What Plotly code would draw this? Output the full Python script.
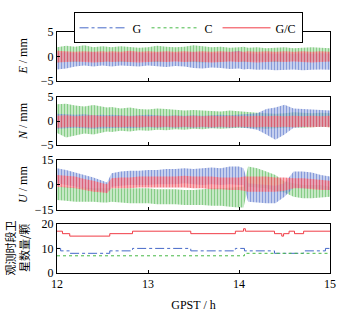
import plotly.graph_objects as go

# ---------------- data ----------------
T = [12.0, 12.1, 12.2, 12.3, 12.4, 12.5, 12.55, 12.6, 12.7, 12.8, 12.9, 13.0, 13.1, 13.2,
     13.3, 13.4, 13.5, 13.6, 13.7, 13.8, 13.9, 14.0, 14.05, 14.1, 14.2, 14.3, 14.4, 14.5,
     14.6, 14.7, 14.8, 14.9, 15.0]

# E component envelopes (mm)
E_G_hi = [0.8, 0.9, 0.7, 0.8, 0.9, 0.7, 0.8, 0.8, 0.7, 0.9, 0.8, 0.7, 0.8, 0.9, 0.7, 0.8, 0.9,
          0.8, 0.7, 0.8, 0.9, 1.2, 0.8, 0.7, 0.6, 0.7, 0.6, 0.7, 0.6, 0.7, 0.6, 0.7, 0.6]
E_G_lo = [-2.6, -2.4, -2.0, -1.8, -2.0, -1.8, -1.9, -2.0, -1.8, -1.9, -2.0, -1.8, -2.0, -2.1,
          -1.9, -2.0, -2.3, -2.4, -2.2, -2.3, -2.5, -2.4, -2.6, -2.5, -2.7, -2.6, -2.8, -2.7,
          -2.6, -2.8, -2.7, -2.6, -2.7]
E_C_hi = [1.9, 2.2, 2.0, 2.3, 1.9, 2.1, 2.0, 1.9, 2.1, 2.0, 1.8, 1.9, 2.2, 2.0, 1.9, 2.0, 2.3,
          2.1, 1.9, 2.0, 1.8, 1.9, 2.0, 1.8, 1.9, 1.7, 1.8, 1.9, 1.7, 1.8, 1.9, 1.8, 1.7]
E_C_lo = [-1.2, -1.0, -1.1, -0.9, -1.0, -1.1, -1.0, -0.9, -1.0, -1.1, -0.9, -1.0, -1.1, -1.0,
          -0.9, -1.0, -1.1, -1.2, -1.0, -1.1, -0.9, -1.0, -1.1, -1.0, -0.9, -1.0, -1.1, -1.0,
          -0.9, -1.0, -1.1, -1.0, -1.0]
E_GC_hi = [1.2, 1.1, 1.0, 1.1, 1.0, 1.1, 1.0, 1.1, 1.0, 1.2, 1.0, 1.1, 1.0, 1.1, 1.0, 1.1, 1.0,
           1.1, 1.0, 1.1, 1.0, 1.1, 1.0, 1.1, 1.0, 1.1, 1.0, 1.1, 1.0, 1.1, 1.0, 1.1, 1.0]
E_GC_lo = [-1.2, -1.1, -1.0, -1.1, -1.2, -1.1, -1.0, -1.1, -1.0, -1.1, -1.2, -1.1, -1.0, -1.1,
           -1.0, -1.1, -1.0, -1.1, -1.2, -1.1, -1.0, -1.1, -1.0, -1.1, -1.2, -1.1, -1.0, -1.1,
           -1.0, -1.1, -1.2, -1.1, -1.0]

# N component envelopes (mm)
N_G_hi = [1.5, 1.4, 1.3, 1.4, 1.2, 1.3, 1.2, 1.3, 1.2, 1.1, 1.2, 1.3, 1.2, 1.1, 1.2, 1.1, 1.2,
          1.1, 1.2, 1.3, 1.2, 1.3, 1.4, 1.5, 1.6, 2.5, 2.8, 3.4, 2.6, 2.5, 2.4, 2.3, 2.2]
N_G_lo = [-1.6, -1.5, -1.4, -1.5, -1.6, -1.5, -1.4, -1.5, -1.4, -1.5, -1.4, -1.3, -1.4, -1.3,
          -1.4, -1.3, -1.4, -1.3, -1.4, -1.3, -1.4, -1.3, -1.4, -1.5, -1.8, -2.8, -3.9, -2.8,
          -1.4, -1.2, -1.1, -1.2, -1.1]
N_C_hi = [3.5, 3.6, 3.2, 3.0, 3.3, 3.0, 2.8, 2.9, 2.6, 2.8, 2.5, 2.4, 2.6, 2.5, 2.3, 2.2, 2.3,
          2.2, 2.1, 2.0, 2.2, 2.0, 1.9, 1.8, 1.7, 1.6, 1.5, 1.6, 1.8, 1.7, 1.6, 1.7, 1.6]
N_C_lo = [-2.5, -3.4, -3.0, -2.6, -2.8, -2.4, -2.2, -2.3, -2.0, -2.2, -1.9, -2.0, -1.8, -1.9,
          -1.7, -1.8, -1.6, -1.7, -1.5, -1.6, -1.5, -1.4, -1.5, -1.4, -1.5, -1.6, -1.5, -1.4,
          -1.3, -1.4, -1.3, -1.2, -1.3]
N_GC_hi = [1.1, 1.2, 1.0, 1.1, 1.2, 1.0, 1.1, 1.0, 1.1, 1.0, 1.1, 1.0, 1.1, 1.0, 1.1, 1.0, 1.1,
           1.0, 1.1, 1.0, 1.1, 1.0, 1.1, 1.0, 1.1, 1.0, 1.1, 1.0, 1.1, 1.0, 1.1, 1.0, 1.1]
N_GC_lo = [-1.4, -1.3, -1.2, -1.3, -1.4, -1.2, -1.3, -1.2, -1.3, -1.2, -1.3, -1.2, -1.3, -1.2,
           -1.3, -1.2, -1.3, -1.2, -1.3, -1.2, -1.3, -1.2, -1.3, -1.2, -1.3, -1.2, -1.3, -1.2,
           -1.3, -1.2, -1.3, -1.2, -1.3]

# U component envelopes (mm)
U_G_hi = [10, 9, 7.5, 6, 4.5, 2.5, 1.5, 7, 8, 8.5, 8.5, 9, 9, 9.5, 9.5, 10, 9.5, 10, 10.5, 10,
          11, 11, 10, 1, 0.5, 0, -0.5, 1, 8, 8, 7.5, 6, 5]
U_G_lo = [1, 0, -1, -2, -3, -4, -4.5, -1, -0.5, 0, 0, 0, 0.5, 0.5, 0.5, 1, 0.5, 0, 0.5, 0, 0.5,
          0, 0, -10, -10.5, -11, -11, -7, -1.5, -2, -2, -2.5, -3]
U_C_hi = [-1, -1, -1.5, -1.5, -2, -2, -2, -2, -2, -2, -2, -2, -2.5, -2.5, -2.5, -3, -3, -2.5,
          -2, -2, -1.5, -1, -1, 11, 10, 8, 6, 2, 1, 0, 0, 0, -1]
U_C_lo = [-9, -9.5, -10, -10, -10, -10.5, -10.5, -10, -10.5, -11, -11, -11, -11.5, -11.5,
          -11.5, -12, -12, -12, -12.5, -12.5, -13, -13.5, -13.5, -1, -1.5, -2, -3.5, -4.5, -7,
          -8, -8, -7.5, -7]
U_GC_hi = [6, 5.5, 5, 3.5, 2.5, 1, 0.5, 4, 4.5, 4.5, 5, 5, 5, 5, 5, 5.5, 5, 5, 5, 4.5, 4.5,
           4.5, 5, 5, 5, 5, 4.5, 4.5, 4, 4, 3.5, 3, 2.5]
U_GC_lo = [-1, -1.5, -2, -3, -4, -4.5, -5, -2, -2, -2, -1.5, -1.5, -1.5, -1.5, -1.5, -1.5, -2,
           -2, -2.5, -2.5, -3, -3, -3.5, -4, -4, -4, -4, -3.5, -2, -2, -2.5, -3, -3]

# satellite counts (step series)
SAT_T_G = [12.0, 12.04, 12.14, 12.58, 12.83, 13.47, 13.96, 14.06, 14.39, 14.71, 14.95, 15.0]
SAT_G = [10, 9, 8, 9, 10, 9, 10, 9, 8, 9, 10, 10]
SAT_T_C = [12.0, 14.06, 15.0]
SAT_C = [7, 8, 8]
SAT_T_GC = [12.0, 12.06, 12.14, 12.58, 12.83, 13.47, 13.96, 14.05, 14.07, 14.39, 14.47,
            14.49, 14.55, 14.61, 14.71, 15.0]
SAT_GC = [17, 16, 15, 16, 17, 16, 17, 18, 17, 16, 15, 16, 17, 16, 17, 17]

X_TICKS = [12, 13, 14, 15]

# ---------------- styling ----------------
FONT = "Liberation Serif, Times New Roman, serif"
COL = {"G": "rgb(70,105,200)", "C": "rgb(70,185,70)", "G/C": "rgb(240,60,70)"}
FILL_BG = {"G": "rgba(140,160,222,0.5)", "C": "rgba(140,210,140,0.5)",
           "G/C": "rgba(248,140,150,0.65)"}
FILL_FG = {"G": "rgba(60,90,190,0.9)", "C": "rgba(60,170,60,0.9)",
           "G/C": "rgba(235,40,55,0.9)"}
DASH = {"G": "dashdot", "C": "dot", "G/C": "solid"}

fig = go.Figure()


def band(name, hi, lo, yref):
    ax = "x" if yref == "y" else "x" + yref[1:]
    fig.add_trace(go.Scatter(
        x=T + T[::-1], y=hi + lo[::-1], mode="lines", line=dict(width=0),
        fill="toself", fillcolor=FILL_BG[name],
        fillpattern=dict(shape="|", fgcolor=FILL_FG[name], bgcolor=FILL_BG[name],
                         size=3, solidity=0.35),
        showlegend=False, hoverinfo="skip", xaxis=ax, yaxis=yref))


# E panel
band("C", E_C_hi, E_C_lo, "y")
band("G", E_G_hi, E_G_lo, "y")
band("G/C", E_GC_hi, E_GC_lo, "y")
# N panel
band("C", N_C_hi, N_C_lo, "y2")
band("G", N_G_hi, N_G_lo, "y2")
band("G/C", N_GC_hi, N_GC_lo, "y2")
# U panel
band("C", U_C_hi, U_C_lo, "y3")
band("G", U_G_hi, U_G_lo, "y3")
band("G/C", U_GC_hi, U_GC_lo, "y3")

# satellites panel (also legend)
for name, tx, vals in [("G", SAT_T_G, SAT_G), ("C", SAT_T_C, SAT_C), ("G/C", SAT_T_GC, SAT_GC)]:
    fig.add_trace(go.Scatter(x=tx, y=vals, mode="lines", name=name, line_shape="hv",
                             line=dict(color=COL[name], width=1, dash=DASH[name]),
                             xaxis="x4", yaxis="y4"))

# ---------------- layout ----------------
L, R, TOP, B = 57, 24, 28, 49
H = 322 - TOP - B


def dom(top_px, bot_px):
    return [(273 - bot_px) / H, (273 - top_px) / H]


axis_common = dict(showline=True, linecolor="black", linewidth=1, mirror=True,
                   ticks="inside", ticklen=3, tickcolor="black", showgrid=False,
                   zeroline=False, tickfont=dict(family=FONT, size=12, color="black"))

doms = [dom(28, 78), dom(94, 143), dom(158, 209), dom(223, 273)]
yranges = [[-5, 5], [-5, 5], [-15, 15], [0, 20]]
yticks = [[-5, 0, 5], [-5, 0, 5], [-15, 0, 15], [0, 10, 20]]

layout = dict(width=354, height=322, margin=dict(l=L, r=R, t=TOP, b=B),
              paper_bgcolor="white", plot_bgcolor="white",
              font=dict(family=FONT, size=12, color="black"),
              legend=dict(orientation="h", x=0.48, xanchor="center",
                          y=(273 - 8) / H, yanchor="top",
                          bordercolor="black", borderwidth=1, bgcolor="white",
                          font=dict(family=FONT, size=12), itemwidth=48,
                          traceorder="normal"),
              showlegend=True)

for i in range(4):
    xs = "xaxis" if i == 0 else f"xaxis{i+1}"
    ys = "yaxis" if i == 0 else f"yaxis{i+1}"
    xa = dict(axis_common, range=[12, 15], tickvals=X_TICKS, anchor="y" if i == 0 else f"y{i+1}",
              domain=[0, 1], showticklabels=(i == 3))
    if i == 3:
        xa["title"] = dict(text="GPST / h", font=dict(family=FONT, size=12), standoff=10)
    ya = dict(axis_common, range=yranges[i], tickvals=yticks[i], domain=doms[i],
              anchor="x" if i == 0 else f"x{i+1}")
    layout[xs] = xa
    layout[ys] = ya

fig.update_layout(**layout)

ytitles = [("<i>E</i> / mm", doms[0]), ("<i>N</i> / mm", doms[1]), ("<i>U</i> / mm", doms[2])]
for txt, d in ytitles:
    fig.add_annotation(text=txt, xref="paper", yref="paper", x=(23 - L) / 273,
                       y=(d[0] + d[1]) / 2, xanchor="center", yanchor="middle",
                       textangle=-90, showarrow=False, font=dict(family=FONT, size=12))
fig.add_annotation(text="观测时段卫<br>星数量/颗", xref="paper", yref="paper",
                   x=(17 - L) / 273, y=(doms[3][0] + doms[3][1]) / 2,
                   xanchor="center", yanchor="middle", textangle=-90, showarrow=False,
                   font=dict(family="Noto Sans CJK SC", size=11))

fig.write_html("out.html")
